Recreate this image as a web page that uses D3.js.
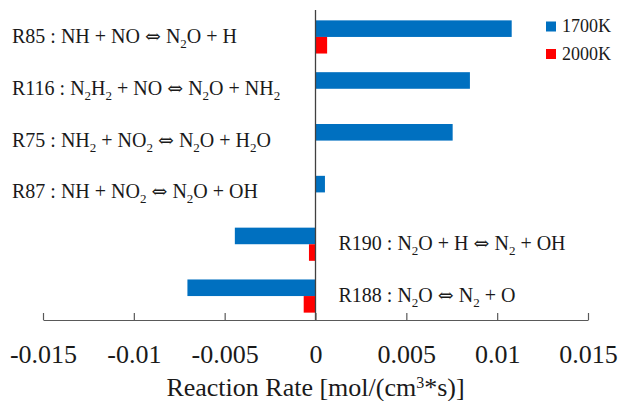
<!DOCTYPE html>
<html>
<head>
<meta charset="utf-8">
<script src="https://cdn.jsdelivr.net/npm/d3@7"></script>
<style>
  body { margin: 0; background: #fff; }
  svg { display: block; font-family: "Liberation Serif", "Times New Roman", serif; }
</style>
</head>
<body>
<div id="chart"></div>
<script>
// reactions, top to bottom
const reactions = ['R85', 'R116', 'R75', 'R87', 'R190', 'R188'];
// "_2" = subscript 2
const reactionLabels = [
  'R85 : NH + NO \u21D4 N_2O + H',
  'R116 : N_2H_2 + NO \u21D4 N_2O + NH_2',
  'R75 : NH_2 + NO_2 \u21D4 N_2O + H_2O',
  'R87 : NH + NO_2 \u21D4 N_2O + OH',
  'R190 : N_2O + H \u21D4 N_2 + OH',
  'R188 : N_2O \u21D4 N_2 + O'
];
const series = ['1700K', '2000K'];
const rate1700 = [0.0108, 0.0085, 0.00755, 0.00052, -0.00444, -0.00705];
const rate2000 = [0.00064, 0, 0, 0, -0.00036, -0.00065];
const xTicks = [-0.015, -0.01, -0.005, 0, 0.005, 0.01, 0.015];
const xTickLabels = ['-0.015', '-0.01', '-0.005', '0', '0.005', '0.01', '0.015'];

const colors = { '1700K': '#0070C0', '2000K': '#FF0000' };

const width = 622, height = 401;
const axisY = 320;

const data = reactions.map((r, i) => ({
  reaction: r,
  label: reactionLabels[i],
  values: [
    { key: '1700K', value: rate1700[i] },
    { key: '2000K', value: rate2000[i] }
  ]
}));

const svg = d3.select('#chart')
  .append('svg')
  .attr('width', width)
  .attr('height', height);

const x = d3.scaleLinear()
  .domain([-0.015, 0.015])
  .range([43, 588]);

const y = d3.scaleBand()
  .domain(reactions)
  .range([10, 323])
  .paddingInner(0.36)
  .paddingOuter(0.2);

const y1 = d3.scaleBand()
  .domain(series)
  .range([0, y.bandwidth()]);

// writes "N_2O" style strings as tspans with subscripts
const richText = (sel, str, subSize, subShift) => {
  const parts = str.split(/(_\d|\u21D4)/).filter(p => p !== '');
  let shifted = false;
  parts.forEach(p => {
    if (p.startsWith('_')) {
      sel.append('tspan')
        .attr('dy', shifted ? 0 : subShift)
        .style('font-size', subSize + 'px')
        .text(p.slice(1));
      shifted = true;
    } else {
      const t = sel.append('tspan')
        .attr('dy', shifted ? -subShift : 0)
        .text(p);
      if (p === '\u21D4') t.style('font-family', '"DejaVu Serif", serif').style('font-size', '19px');
      shifted = false;
    }
  });
};

// bars
const groups = svg.selectAll('.reaction')
  .data(data)
  .enter()
  .append('g')
  .attr('class', 'reaction')
  .attr('transform', d => `translate(0,${y(d.reaction)})`);

groups.selectAll('rect')
  .data(d => d.values)
  .enter()
  .append('rect')
  .attr('x', d => x(Math.min(0, d.value)))
  .attr('y', d => y1(d.key))
  .attr('width', d => Math.abs(x(d.value) - x(0)))
  .attr('height', y1.bandwidth())
  .attr('fill', d => colors[d.key]);

// reaction labels
groups.append('text')
  .attr('x', d => d.values[0].value < 0 ? x(0) + 23 : 12)
  .attr('y', y.bandwidth() / 2 + 6)
  .style('font-size', '20px')
  .style('fill', '#1a1a1a')
  .each(function(d) { richText(d3.select(this), d.label, 13, 5); });

// zero line
svg.append('line')
  .attr('x1', x(0)).attr('x2', x(0))
  .attr('y1', 10).attr('y2', axisY)
  .attr('stroke', '#404040')
  .attr('stroke-width', 1.3);

// x axis
const xAxis = svg.append('g')
  .attr('transform', `translate(0,${axisY})`)
  .call(d3.axisBottom(x)
    .tickValues(xTicks)
    .tickFormat((d, i) => xTickLabels[i])
    .tickSizeInner(-7)
    .tickSizeOuter(0));

xAxis.select('.domain').attr('stroke', '#595959').attr('stroke-width', 1.2);
xAxis.selectAll('.tick line').attr('stroke', '#595959').attr('stroke-width', 1.2);
xAxis.selectAll('.tick text')
  .attr('y', 43)
  .attr('dy', 0)
  .style('font-family', '"Liberation Serif", "Times New Roman", serif')
  .style('font-size', '26px')
  .style('fill', '#1a1a1a');

// axis title
const title = svg.append('text')
  .attr('x', x(0))
  .attr('y', 396)
  .attr('text-anchor', 'middle')
  .style('font-size', '26px')
  .style('fill', '#1a1a1a');
title.append('tspan').text('Reaction Rate [mol/(cm');
title.append('tspan').attr('dy', -8).style('font-size', '16px').text('3');
title.append('tspan').attr('dy', 8).text('*s)]');

// legend
const legend = svg.selectAll('.legend')
  .data(series)
  .enter()
  .append('g')
  .attr('class', 'legend')
  .attr('transform', (d, i) => `translate(546,${21.5 + i * 27.5})`);

legend.append('rect')
  .attr('width', 10)
  .attr('height', 10)
  .attr('fill', d => colors[d]);

legend.append('text')
  .attr('x', 16)
  .attr('y', 10.5)
  .style('font-size', '18px')
  .style('fill', '#1a1a1a')
  .text(d => d);
</script>
</body>
</html>
